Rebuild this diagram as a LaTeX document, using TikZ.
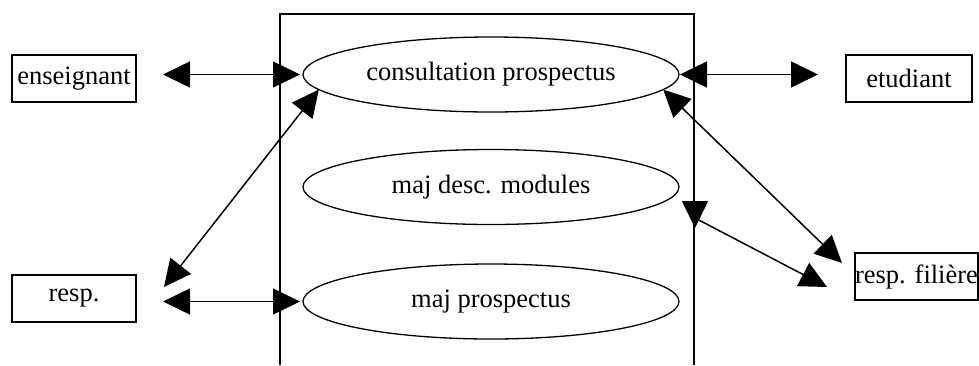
\documentclass[tikz,border=0pt]{standalone}
\usepackage{fontspec}
\setmainfont{Liberation Serif}
\usetikzlibrary{arrows.meta,shapes.geometric}
\begin{document}
\begin{tikzpicture}[x=1pt,y=-1pt,
  label font/.style={font=\fontsize{26.5}{30}\selectfont},
  actor/.style={draw, line width=1.3pt, rectangle, inner sep=0pt, outer sep=0pt,
    minimum height=47pt, label font},
  usecase/.style={draw, line width=1.3pt, ellipse, inner sep=0pt, outer sep=0pt,
    minimum width=376pt, minimum height=75pt, label font},
  boundary/.style={line width=1.3pt},
  link/.style={line width=1.5pt,
    {Triangle[length=27pt,width=26pt]}-{Triangle[length=27pt,width=26pt]}}
]
\useasboundingbox (0,0) rectangle (979,365);

% system boundary (open at the bottom)
\coordinate (sysBL) at (280,365);
\coordinate (sysTL) at (280,14);
\coordinate (sysTR) at (694,14);
\coordinate (sysBR) at (694,365);
\draw[boundary] (sysBL) -- (sysTL) -- (sysTR) -- (sysBR);

% actors
\node[actor, minimum width=124pt] (ens)  at (74,78.5)    {enseignant};
\node[actor, minimum width=124pt] (resp) at (74,298.5)   {resp.};
\node[actor, minimum width=126pt] (etu)  at (909,78.5)   {etudiant};
\node[actor, minimum width=123pt] (rf)   at (916.5,276.5) {resp. filière};

% use cases
\node[usecase] (cp) at (491,74.5) {consultation prospectus};
\node[usecase] (md) at (491,187)  {maj desc. modules};
\node[usecase] (mp) at (491,301.5) {maj prospectus};

% free ends of the slanted links
\coordinate (respTip) at (164,287);
\coordinate (rfTipA)  at (842,263);
\coordinate (mdTip)   at (695,228);
\coordinate (rfTipB)  at (827,287);

% associations
\draw[link, shorten <=27pt, shorten >=3pt] (ens.east |- cp.west) -- (cp.west);
\draw[link, shorten <=1pt, shorten >=28pt] (cp.east) -- (etu.west |- cp.east);
\draw[link, shorten <=27pt, shorten >=3pt] (resp.east |- mp.west) -- (mp.west);
\draw[link] (respTip) -- (cp.185);
\draw[link] (cp.355) -- (rfTipA);
\draw[link] (mdTip) -- ++(0,-10) -- (rfTipB);
\end{tikzpicture}
\end{document}
